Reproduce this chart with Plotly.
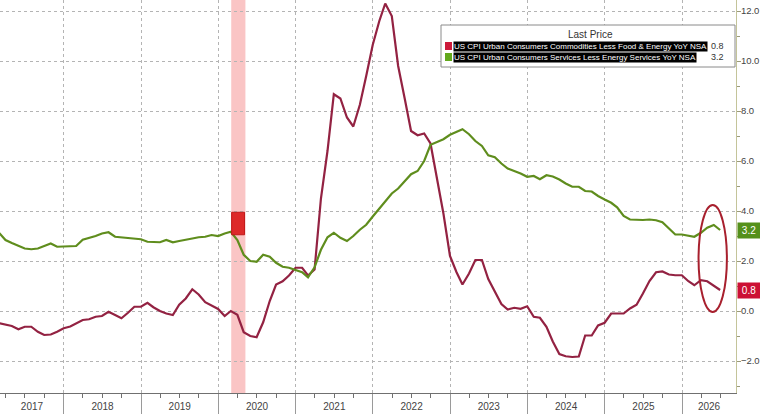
import pandas as pd
import plotly.graph_objects as go

# ---------------- data (monthly, month-end) ----------------
dates = pd.date_range("2017-02-28", "2026-06-30", freq="ME")

core_goods = [
    # 2017 (Feb-Dec)
    -0.49, -0.55, -0.60, -0.73, -0.63, -0.63, -0.83, -0.96, -0.94, -0.83, -0.69,
    # 2018
    -0.62, -0.50, -0.36, -0.33, -0.23, -0.20, -0.03, -0.16, -0.29, -0.07, 0.17, 0.17,
    # 2019
    0.33, 0.15, 0.00, -0.10, -0.16, 0.25, 0.50, 0.87, 0.66, 0.35, 0.20, 0.08,
    # 2020
    -0.20, 0.00, -0.15, -0.85, -1.00, -1.05, -0.45, 0.40, 1.06, 1.19, 1.42, 1.73,
    # 2021
    1.73, 1.42, 1.66, 4.50, 6.40, 8.67, 8.50, 7.74, 7.38, 8.25, 9.40, 10.65,
    # 2022
    11.60, 12.30, 11.80, 9.80, 8.50, 7.20, 7.03, 7.10, 6.70, 5.30, 3.90, 2.20,
    # 2023
    1.55, 1.06, 1.50, 2.04, 2.04, 1.28, 0.75, 0.28, 0.06, 0.13, 0.09, 0.19,
    # 2024
    -0.23, -0.27, -0.63, -1.22, -1.72, -1.81, -1.84, -1.82, -0.98, -0.98, -0.58, -0.47,
    # 2025
    -0.10, -0.10, -0.10, 0.10, 0.25, 0.70, 1.20, 1.55, 1.58, 1.46, 1.43, 1.43,
    # 2026
    1.19, 1.03, 1.23, 1.19, 1.02, 0.84,
]

core_services = [
    # 2017 (Feb-Dec)
    3.13, 2.84, 2.72, 2.60, 2.50, 2.47, 2.50, 2.60, 2.70, 2.57, 2.57,
    # 2018
    2.60, 2.60, 2.85, 2.92, 3.00, 3.10, 3.15, 2.97, 2.95, 2.90, 2.88, 2.87,
    # 2019
    2.77, 2.75, 2.75, 2.84, 2.75, 2.80, 2.84, 2.90, 2.95, 2.97, 3.04, 3.00,
    # 2020
    3.10, 3.17, 2.84, 2.25, 2.00, 1.97, 2.25, 2.17, 1.93, 1.77, 1.73, 1.65,
    # 2021
    1.55, 1.35, 1.75, 2.45, 2.95, 3.13, 2.93, 2.80, 3.00, 3.25, 3.45, 3.78,
    # 2022
    4.10, 4.42, 4.70, 4.90, 5.20, 5.47, 5.60, 6.00, 6.65, 6.77, 6.87, 7.05,
    # 2023
    7.15, 7.27, 7.07, 6.80, 6.60, 6.23, 6.15, 5.90, 5.70, 5.60, 5.50, 5.37,
    # 2024
    5.40, 5.27, 5.43, 5.38, 5.26, 5.10, 4.97, 4.97, 4.80, 4.78, 4.60, 4.46,
    # 2025
    4.33, 4.15, 3.80, 3.66, 3.64, 3.64, 3.66, 3.63, 3.55, 3.30, 3.06, 3.06,
    # 2026
    3.00, 2.97, 3.13, 3.33, 3.44, 3.24,
]

name_goods = "US CPI Urban Consumers Commodities Less Food & Energy YoY NSA"
name_services = "US CPI Urban Consumers Services Less Energy Services YoY NSA"
last_goods = "0.8"
last_services = "3.2"
years = list(range(2017, 2027))
y_ticks = [-2, 0, 2, 4, 6, 8, 10, 12]

# ---------------- style ----------------
C_GOODS = "#932242"
C_SERV = "#5f8d1d"
GRID = "#b4b4b4"
FONT = "Liberation Sans, Arial, sans-serif"

x_start = pd.Timestamp("2017-03-05")
x_end = pd.Timestamp("2026-09-13")
y_range = [-3.28, 12.44]

year_starts = [pd.Timestamp(f"{y}-01-01") for y in years[1:]]
label_pos = []
for y in years:
    a = max(pd.Timestamp(f"{y}-01-01"), x_start)
    b = min(pd.Timestamp(f"{y+1}-01-01"), x_end)
    label_pos.append(a + (b - a) / 2)

fig = go.Figure()

# recession shading
fig.add_vrect(x0="2020-03-02", x1="2020-05-08", fillcolor="rgba(246,150,150,0.55)",
              line_width=0, layer="below")

fig.add_trace(go.Scatter(x=dates, y=core_goods, mode="lines", name=name_goods,
                         line=dict(color=C_GOODS, width=2.2), showlegend=False))
fig.add_trace(go.Scatter(x=dates, y=core_services, mode="lines", name=name_services,
                         line=dict(color=C_SERV, width=2.2), showlegend=False))
# carrier trace for the label axis
fig.add_trace(go.Scatter(x=[dates[0]], y=[None], xaxis="x2", showlegend=False,
                         hoverinfo="skip", mode="lines"))

# event flag near recession start
fig.add_shape(type="rect", x0="2020-03-04", x1="2020-05-04", y0=3.05, y1=3.95,
              fillcolor="#dd2a2a", line=dict(color="#c01818", width=1), layer="above")

# highlight ellipse around latest values
fig.add_shape(type="circle", x0="2026-03-20", x1="2026-08-01", y0=-0.04, y1=4.24,
              line=dict(color="#a8202e", width=2), fillcolor="rgba(0,0,0,0)")

fig.update_layout(
    width=760, height=414,
    margin=dict(l=0, r=24, t=0, b=21, autoexpand=False),
    paper_bgcolor="white", plot_bgcolor="white",
    font=dict(family=FONT, size=10, color="#333333"),
    xaxis=dict(
        type="date", range=[x_start, x_end],
        tickvals=year_starts, showticklabels=False,
        ticks="outside", ticklen=21, tickcolor="#9a9a9a", tickwidth=1,
        showgrid=True, gridcolor=GRID, griddash="dot", gridwidth=1,
        showline=True, linecolor="#707070", linewidth=1,
        minor=dict(dtick="M3", tick0="2017-01-01", ticks="outside", ticklen=4,
                   tickcolor="#707070", showgrid=False),
        zeroline=False,
    ),
    xaxis2=dict(
        type="date", overlaying="x", matches="x", anchor="y", side="bottom",
        tickvals=label_pos, ticktext=[str(y) for y in years],
        ticks="", showgrid=False, showline=False, zeroline=False,
        tickfont=dict(size=10, color="#444444"), ticklabelstandoff=6,
    ),
    yaxis=dict(
        side="right", range=y_range, tickvals=y_ticks, tickformat=".1f",
        ticks="outside", ticklen=4, tickcolor="#9a9a7a",
        showgrid=True, gridcolor=GRID, griddash="dot", gridwidth=1,
        showline=True, linecolor="#c4c49a", linewidth=1, zeroline=False,
        tickfont=dict(size=9.5, color="#444444"), ticklabelstandoff=-2,
        minor=dict(dtick=1, ticks="outside", ticklen=3, tickcolor="#9a9a7a", showgrid=False),
    ),
    hovermode=False,
)

# last-price tags on right axis
for val, txt, col in [(core_services[-1], last_services, "#54901a"),
                      (core_goods[-1], last_goods, "#cc1034")]:
    fig.add_annotation(x=1, xref="paper", y=val, yref="y", xanchor="left", yanchor="middle",
                       xshift=1, text=txt, showarrow=False, bgcolor=col, borderpad=2,
                       font=dict(size=10, color="white", family=FONT), width=18)

# legend box built from annotations
W, H = 736.0, 393.0
def px(x): return x / W
def py(y): return (H - y) / H

fig.add_shape(type="rect", xref="paper", yref="paper", x0=px(441), x1=px(735),
              y0=py(67), y1=py(25), fillcolor="white", line=dict(color="#8a8a8a", width=1),
              layer="above")
fig.add_annotation(x=px(590), y=py(35), xref="paper", yref="paper", text="Last Price",
                   xanchor="center", yanchor="middle",
                   showarrow=False, font=dict(size=10, color="#333333"))
for yc, col, name, val in [(46, "#cc1a3a", name_goods, last_goods),
                           (57, "#62a81c", name_services, last_services)]:
    fig.add_shape(type="rect", xref="paper", yref="paper", x0=px(445), x1=px(452),
                  y0=py(yc + 4), y1=py(yc - 4), fillcolor=col, line_width=0, layer="above")
    fig.add_annotation(x=px(453), y=py(yc), xref="paper", yref="paper", text=name,
                       xanchor="left", yanchor="middle", showarrow=False,
                       bgcolor="black", borderpad=0,
                       font=dict(size=8, color="white", family=FONT))
    fig.add_annotation(x=px(726), y=py(yc), xref="paper", yref="paper", text=val,
                       xanchor="right", yanchor="middle", showarrow=False,
                       font=dict(size=9, color="#333333", family=FONT))

fig.write_html("out.html")
